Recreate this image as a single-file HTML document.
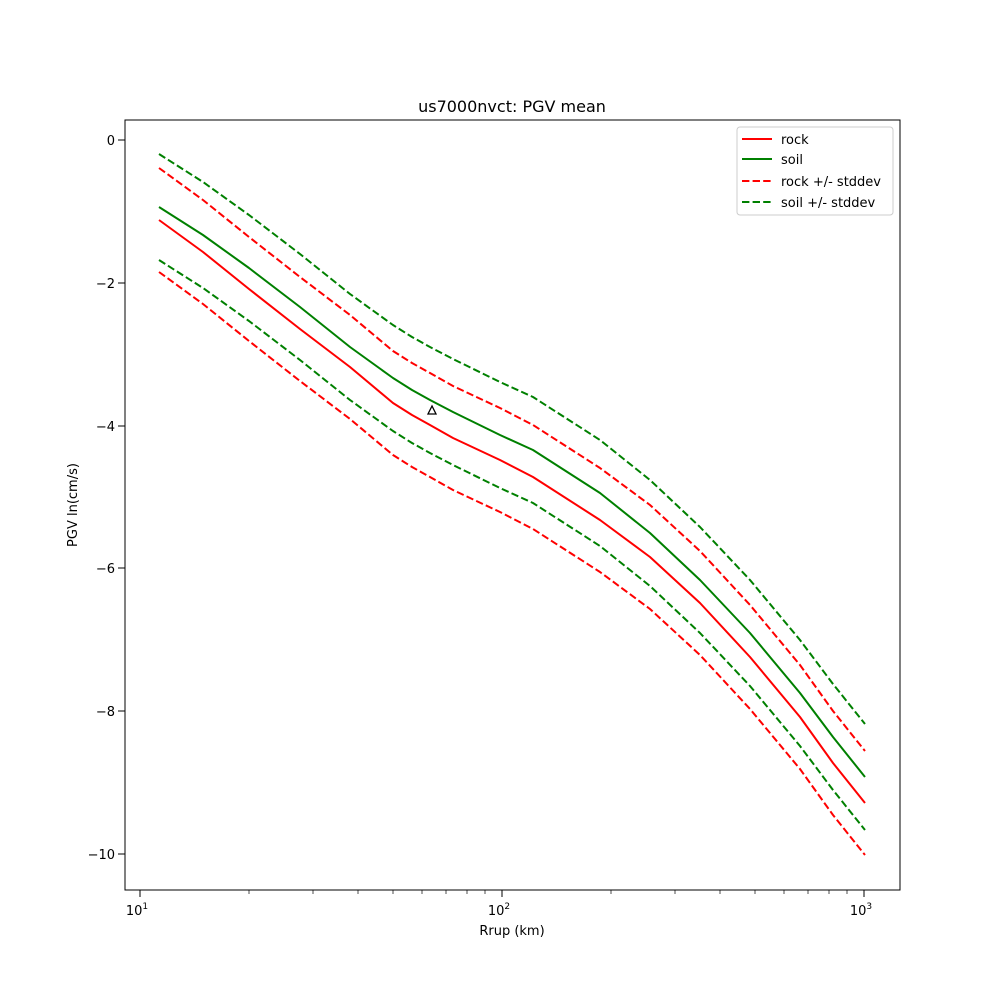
<!DOCTYPE html>
<html><head><meta charset="utf-8"><style>body{margin:0;background:#fff}svg{display:block}text{font-family:"DejaVu Sans","Liberation Sans",sans-serif;fill:#000}</style></head>
<body>
<svg width="1000" height="1000" viewBox="0 0 1000 1000" xmlns="http://www.w3.org/2000/svg">
<rect width="1000" height="1000" fill="#fff"/>
<text x="512" y="112" font-size="16" text-anchor="middle">us7000nvct: PGV mean</text>
<g fill="none" stroke-width="2" stroke-linejoin="round">
<polyline stroke="#008000" stroke-dasharray="7.4,3.2" transform="translate(0,-53)" points="159,207 203,235 249,268 300,307 350,347 393,378 412,390 430,400 453,412 500,435 533,450 600,493 650,533 700,580 750,633 800,693 833,737 865,777"/>
<polyline stroke="#ff0000" stroke-dasharray="7.4,3.2" transform="translate(0,-52)" points="159,220 203,252 249,289 300,329 350,367 393,403 412,415 430,425 453,438 500,460 533,477 600,520 650,557 700,603 750,657 800,717 833,763 865,803"/>
<polyline stroke="#008000" points="159,207 203,235 249,268 300,307 350,347 393,378 412,390 430,400 453,412 500,435 533,450 600,493 650,533 700,580 750,633 800,693 833,737 865,777"/>
<polyline stroke="#ff0000" points="159,220 203,252 249,289 300,329 350,367 393,403 412,415 430,425 453,438 500,460 533,477 600,520 650,557 700,603 750,657 800,717 833,763 865,803"/>
<polyline stroke="#008000" stroke-dasharray="7.4,3.2" transform="translate(0,53)" points="159,207 203,235 249,268 300,307 350,347 393,378 412,390 430,400 453,412 500,435 533,450 600,493 650,533 700,580 750,633 800,693 833,737 865,777"/>
<polyline stroke="#ff0000" stroke-dasharray="7.4,3.2" transform="translate(0,52)" points="159,220 203,252 249,289 300,329 350,367 393,403 412,415 430,425 453,438 500,460 533,477 600,520 650,557 700,603 750,657 800,717 833,763 865,803"/>
</g>
<polygon points="432,406 428,414 436,414" fill="none" stroke="#000" stroke-width="1.3"/>
<rect x="125" y="120" width="775" height="770" fill="none" stroke="#000" stroke-width="1"/>
<g stroke="#000" stroke-width="1">
<line x1="140" y1="890" x2="140" y2="897"/><line x1="502" y1="890" x2="502" y2="897"/><line x1="864" y1="890" x2="864" y2="897"/>
<g stroke-width="0.7">
<line x1="249" y1="890" x2="249" y2="894"/><line x1="313" y1="890" x2="313" y2="894"/><line x1="358" y1="890" x2="358" y2="894"/><line x1="393" y1="890" x2="393" y2="894"/><line x1="422" y1="890" x2="422" y2="894"/><line x1="446" y1="890" x2="446" y2="894"/><line x1="467" y1="890" x2="467" y2="894"/><line x1="485" y1="890" x2="485" y2="894"/>
<line x1="611" y1="890" x2="611" y2="894"/><line x1="675" y1="890" x2="675" y2="894"/><line x1="720" y1="890" x2="720" y2="894"/><line x1="755" y1="890" x2="755" y2="894"/><line x1="784" y1="890" x2="784" y2="894"/><line x1="808" y1="890" x2="808" y2="894"/><line x1="829" y1="890" x2="829" y2="894"/><line x1="847" y1="890" x2="847" y2="894"/>
</g>
<line x1="118" y1="140" x2="125" y2="140"/><line x1="118" y1="283" x2="125" y2="283"/><line x1="118" y1="426" x2="125" y2="426"/><line x1="118" y1="568" x2="125" y2="568"/><line x1="118" y1="711" x2="125" y2="711"/><line x1="118" y1="854" x2="125" y2="854"/>
</g>
<g font-size="13" text-anchor="end">
<text x="115" y="145">0</text><text x="115" y="288">−2</text><text x="115" y="431">−4</text><text x="115" y="573">−6</text><text x="115" y="716">−8</text><text x="115" y="859">−10</text>
</g>
<g font-size="13" text-anchor="middle">
<text x="137" y="915">10<tspan font-size="9" dy="-6">1</tspan></text>
<text x="499" y="915">10<tspan font-size="9" dy="-6">2</tspan></text>
<text x="861" y="915">10<tspan font-size="9" dy="-6">3</tspan></text>
<text x="512" y="935">Rrup (km)</text>
</g>
<text x="77" y="505" font-size="13" text-anchor="middle" transform="rotate(-90 77 505)">PGV ln(cm/s)</text>
<rect x="737" y="127" width="156" height="88" rx="3" fill="#fff" stroke="#ccc" stroke-width="1"/>
<g stroke-width="2">
<line x1="742" y1="139" x2="772" y2="139" stroke="#ff0000"/>
<line x1="742" y1="159" x2="772" y2="159" stroke="#008000"/>
<line x1="742" y1="181" x2="772" y2="181" stroke="#ff0000" stroke-dasharray="7.4,3.2"/>
<line x1="742" y1="202" x2="772" y2="202" stroke="#008000" stroke-dasharray="7.4,3.2"/>
</g>
<g font-size="13">
<text x="781" y="144">rock</text><text x="781" y="164">soil</text><text x="781" y="186">rock +/- stddev</text><text x="781" y="207">soil +/- stddev</text>
</g>
</svg>
</body></html>
